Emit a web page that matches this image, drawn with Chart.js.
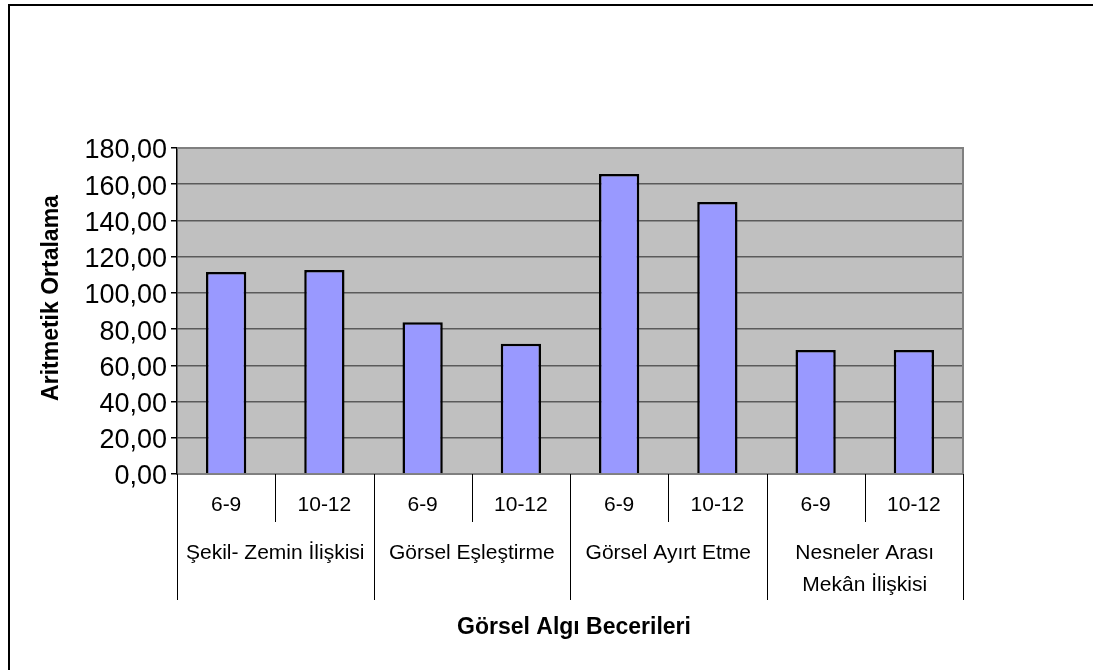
<!DOCTYPE html>
<html>
<head>
<meta charset="utf-8">
<script src="https://cdn.jsdelivr.net/npm/chart.js@4.4.0/dist/chart.umd.min.js"></script>
<style>
    html, body { margin: 0; padding: 0; background: #fff; }
    #wrap { width: 1093px; height: 670px; }
</style>
</head>
<body>
<div id="wrap"><canvas id="chart" width="1093" height="670"></canvas></div>
<script>
// Dane
const skills = ['Şekil- Zemin İlişkisi', 'Görsel Eşleştirme', 'Görsel Ayırt Etme', ['Nesneler Arası', 'Mekân İlişkisi']];
const ageGroups = ['6-9', '10-12'];
const means = [111.6, 112.7, 83.8, 71.9, 165.6, 150.2, 68.4, 68.4];
const yTicks = [0, 20, 40, 60, 80, 100, 120, 140, 160, 180];
const yTitle = 'Aritmetik Ortalama';
const xTitle = 'Görsel Algı Becerileri';

const FONT = "'Liberation Sans', Arial, sans-serif";

// etykiety dla kazdego slupka (grupa + wiek)
const labels = [];
skills.forEach(s => ageGroups.forEach(a => labels.push([].concat(s).join(' ') + ' ' + a)));

// tlo, ramki, etykiety osi X i tytuly
const decorPlugin = {
    id: 'decor',
    beforeDraw(chart) {
        const ctx = chart.ctx;
        const a = chart.chartArea;
        ctx.save();
        ctx.fillStyle = '#fff';
        ctx.fillRect(0, 0, chart.width, chart.height);
        // ramka calego obrazka (widoczne tylko lewa i gorna krawedz)
        ctx.strokeStyle = '#000';
        ctx.lineWidth = 2;
        ctx.beginPath();
        ctx.moveTo(9, chart.height + 5);
        ctx.lineTo(9, 5);
        ctx.lineTo(chart.width + 5, 5);
        ctx.stroke();
        ctx.fillStyle = '#c0c0c0';
        ctx.fillRect(a.left, a.top, a.right - a.left, a.bottom - a.top);
        ctx.restore();
    },
    afterDraw(chart) {
        const ctx = chart.ctx;
        const a = chart.chartArea;
        const x = chart.scales.x;
        ctx.save();
        // ramka obszaru wykresu
        ctx.strokeStyle = '#808080';
        ctx.lineWidth = 2;
        ctx.beginPath();
        ctx.moveTo(a.left, a.top);
        ctx.lineTo(a.right, a.top);
        ctx.lineTo(a.right, a.bottom);
        ctx.stroke();

        // separatory pod osia
        ctx.strokeStyle = '#000';
        ctx.lineWidth = 1;
        for (let i = 0; i <= labels.length; i++) {
            let px;
            if (i === 0) px = a.left;
            else if (i === labels.length) px = a.right;
            else px = (x.getPixelForValue(i - 1) + x.getPixelForValue(i)) / 2;
            const len = (i % ageGroups.length === 0) ? 126 : 48;
            ctx.beginPath();
            ctx.moveTo(Math.round(px) + 0.5, a.bottom);
            ctx.lineTo(Math.round(px) + 0.5, a.bottom + len);
            ctx.stroke();
        }

        ctx.fillStyle = '#000';
        ctx.textAlign = 'center';
        ctx.textBaseline = 'middle';
        ctx.font = '21px ' + FONT;
        labels.forEach((l, i) => {
            ctx.fillText(ageGroups[i % ageGroups.length], x.getPixelForValue(i), a.bottom + 31);
        });
        skills.forEach((s, g) => {
            const cx = (x.getPixelForValue(g * 2) + x.getPixelForValue(g * 2 + 1)) / 2;
            const lines = [].concat(s);
            lines.forEach((t, k) => ctx.fillText(t, cx, a.bottom + 79 + k * 32));
        });

        // tytuly osi
        ctx.font = 'bold 23px ' + FONT;
        ctx.fillText(xTitle, (a.left + a.right) / 2 + 4, 628);
        ctx.translate(52, 298);
        ctx.rotate(-Math.PI / 2);
        ctx.fillText(yTitle, 0, 0);
        ctx.restore();
    }
};

const ctx = document.getElementById('chart').getContext('2d');
new Chart(ctx, {
    type: 'bar',
    data: {
        labels: labels,
        datasets: [{
            data: means,
            backgroundColor: '#9999ff',
            borderColor: '#000',
            borderWidth: 2.5,
            barPercentage: 0.41,
            categoryPercentage: 1
        }]
    },
    options: {
        responsive: false,
        animation: false,
        devicePixelRatio: 1,
        layout: { padding: { left: 0, top: 148, right: 130, bottom: 0 } },
        plugins: {
            legend: { display: false },
            tooltip: { enabled: false }
        },
        scales: {
            x: {
                grid: { display: false },
                border: { display: true, color: '#808080', width: 2 },
                ticks: { display: false },
                afterFit(scale) { scale.height = 196; }
            },
            y: {
                min: 0,
                max: 180,
                afterBuildTicks(scale) { scale.ticks = yTicks.map(v => ({ value: v })); },
                grid: { color: '#5a5a5a', lineWidth: 1.5, tickColor: '#000', tickLength: 6 },
                border: { color: '#000', width: 1.5 },
                ticks: {
                    color: '#000',
                    padding: 4,
                    labelOffset: 3,
                    font: { family: FONT, size: 27 },
                    callback: v => v.toFixed(2).replace('.', ',')
                },
                afterFit(scale) { scale.width = 177; }
            }
        }
    },
    plugins: [decorPlugin]
});
</script>
</body>
</html>
